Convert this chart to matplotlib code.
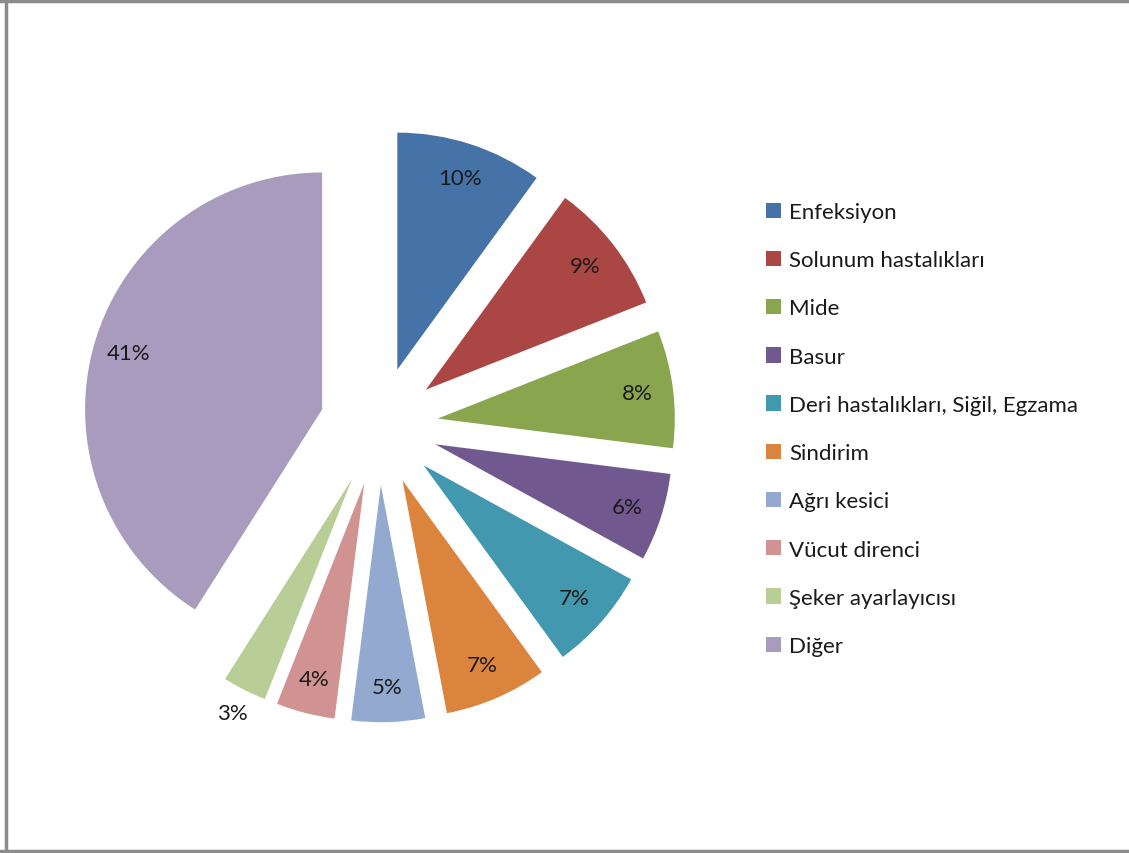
import numpy as np
import matplotlib.pyplot as plt
from matplotlib.lines import Line2D

plt.rcParams['font.family'] = ['Lato', 'DejaVu Sans']

kategoriler = ['Enfeksiyon', 'Solunum hastalıkları', 'Mide', 'Basur',
               'Deri hastalıkları, Siğil, Egzama', 'Sindirim', 'Ağrı kesici',
               'Vücut direnci', 'Şeker ayarlayıcısı', 'Diğer']
yuzdeler = [10, 9, 8, 6, 7, 7, 5, 4, 3, 41]
renkler = ['#4572A7', '#AA4643', '#89A54E', '#71588F', '#4198AF',
           '#DB843D', '#93A9CF', '#D19392', '#B9CD96', '#A99BBD']

W, H = 1129, 854
fig = plt.figure(figsize=(W / 100, H / 100), dpi=100)

# pie radius of 1 = 237 px, centre at (379, 427) px from top-left
R, cx, cy = 237.0, 379.0, 427.0
ax = fig.add_axes([0, 0, 1, 1])

wedges, texts, autotexts = ax.pie(
    yuzdeler, colors=renkler, startangle=90, counterclock=False,
    explode=[0.25] * len(yuzdeler), radius=1.0,
    autopct=lambda p: '%d%%' % round(p), pctdistance=0.85,
    textprops={'fontsize': 16, 'color': '#1a1a1a'},
    wedgeprops={'linewidth': 0})

ax.set_xlim(-cx / R, (W - cx) / R)
ax.set_ylim(-(H - cy) / R, cy / R)
ax.set_aspect('auto')
ax.axis('off')

# the smallest slice gets its label outside the wedge
w = wedges[8]
tm = np.deg2rad((w.theta1 + w.theta2) / 2)
x0, y0 = w.center
autotexts[8].set_position((x0 + 1.11 * np.cos(tm), y0 + 1.11 * np.sin(tm)))

leg = fig.legend(wedges, kategoriler, loc='upper left',
                 bbox_to_anchor=(766 / W, 1 - 203 / H),
                 frameon=False, fontsize=16, handlelength=0.68,
                 handleheight=0.68, handletextpad=0.36, labelspacing=1.27,
                 borderaxespad=0, borderpad=0)
for t in leg.get_texts():
    t.set_color('#1a1a1a')

# chart frame
kw = dict(color='#8c8c8c', linewidth=2.5, transform=fig.transFigure)
fig.add_artist(Line2D([5.5 / W, 5.5 / W], [0, 1], **kw))
fig.add_artist(Line2D([0, 1], [1 - 1.5 / H, 1 - 1.5 / H], **kw))
fig.add_artist(Line2D([0, 1], [1 - 852 / H, 1 - 852 / H], **kw))

fig.savefig('out.png', dpi=100)
